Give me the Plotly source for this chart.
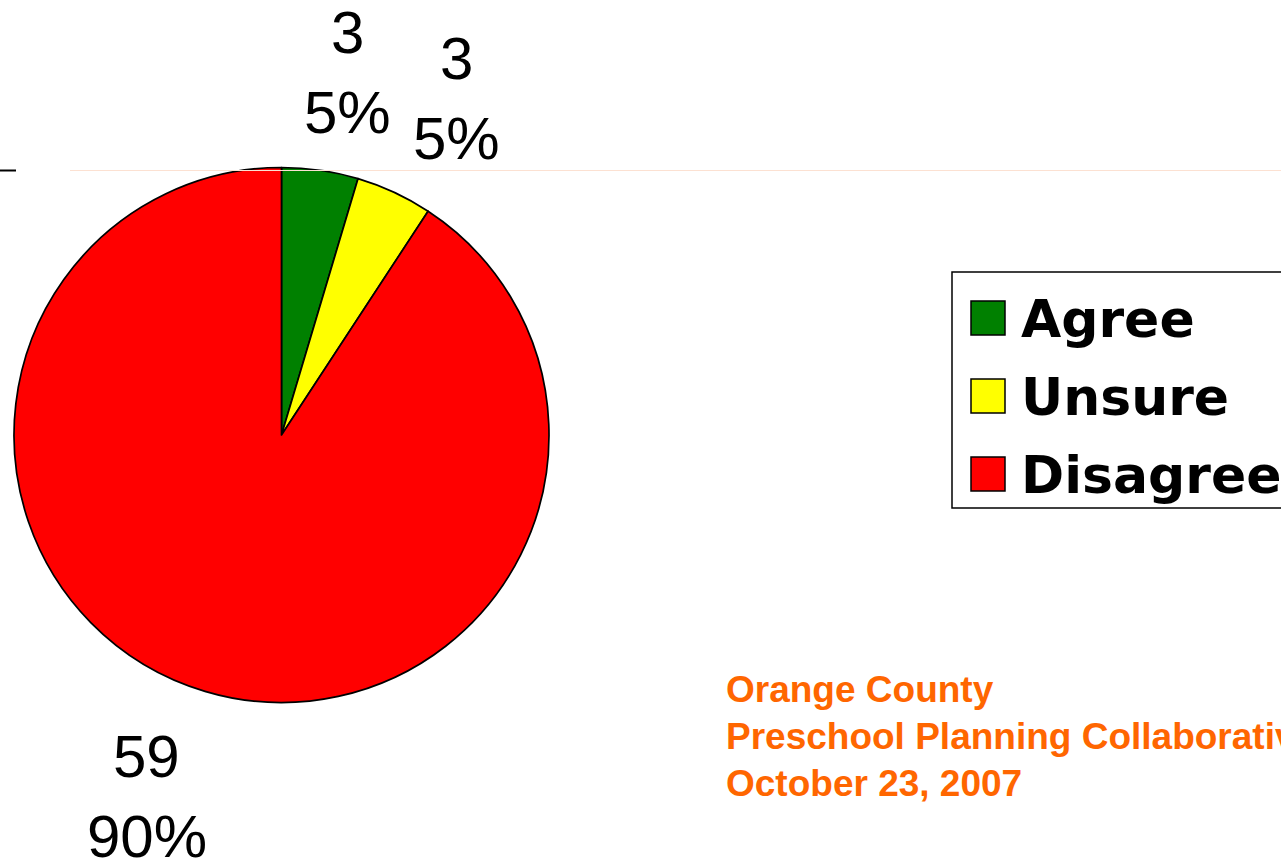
import math
import plotly.graph_objects as go

categories = ["Agree", "Unsure", "Disagree"]
counts = [3, 3, 59]
percent_labels = ["5%", "5%", "90%"]
colors = ["#008000", "#FFFF00", "#FF0000"]
footer_lines = ["Orange County", "Preschool Planning Collaborative", "October 23, 2007"]

W, H = 1281, 861


def px(x):
    return x / W


def py(y):
    return 1 - y / H


cx, cy, R = 281.5, 435.0, 267.5

fig = go.Figure(
    go.Pie(
        labels=categories,
        values=counts,
        sort=False,
        direction="clockwise",
        rotation=0,
        marker=dict(colors=colors, line=dict(color="black", width=1.7)),
        textinfo="none",
        hoverinfo="label+value+percent",
        domain=dict(x=[px(cx - R), px(cx + R)], y=[py(cy + R), py(cy - R)]),
        showlegend=False,
    )
)

annotations = []
shapes = []

# data labels (value + percent) placed outside each slice (layout: radius / angle nudge per label)
FS = 60
label_font = dict(family="Liberation Sans", size=FS, color="black")
LINE = 80                      # distance between the two label lines
label_r = [368, 379, 386]      # distance of label centre from pie centre (px)
label_nudge = [2.0, 2.5, 3.8]  # angular nudge (deg)
total = sum(counts)
cum = 0
for c, p, lr, nd in zip(counts, percent_labels, label_r, label_nudge):
    mid = (cum + c / 2) / total * 360 + nd
    cum += c
    a = math.radians(mid)
    lx = cx + lr * math.sin(a)
    ly = cy - lr * math.cos(a)
    annotations.append(dict(x=px(lx), y=py(ly - LINE / 2), xref="paper", yref="paper", text=str(c),
                            showarrow=False, xanchor="center", yanchor="middle", font=label_font))
    annotations.append(dict(x=px(lx), y=py(ly + LINE / 2), xref="paper", yref="paper", text=p,
                            showarrow=False, xanchor="center", yanchor="middle", font=label_font))

# manual legend
shapes.append(dict(type="rect", xref="paper", yref="paper", x0=px(952), x1=px(1300), y0=py(508), y1=py(272),
                   line=dict(color="black", width=1.5), fillcolor="rgba(0,0,0,0)"))
leg_font = dict(family="DejaVu Sans", size=52, color="black")
for i, (cat, col) in enumerate(zip(categories, colors)):
    yc = 318 + 78 * i
    shapes.append(dict(type="rect", xref="paper", yref="paper", x0=px(971), x1=px(1005), y0=py(yc + 17), y1=py(yc - 17),
                       line=dict(color="black", width=1.5), fillcolor=col))
    annotations.append(dict(x=px(1019), y=py(yc + 1), xref="paper", yref="paper", text="<b>" + cat + "</b>",
                            showarrow=False, xanchor="left", yanchor="middle", font=leg_font))

# top thin line and small dash
shapes.append(dict(type="line", xref="paper", yref="paper", x0=px(70), x1=px(1290), y0=py(170.5), y1=py(170.5),
                   line=dict(color="#FCE1D2", width=1.2)))
shapes.append(dict(type="line", xref="paper", yref="paper", x0=px(0), x1=px(16), y0=py(170.5), y1=py(170.5),
                   line=dict(color="black", width=2)))

# footer text
foot_font = dict(family="Liberation Sans", size=37, color="#FF6600")
for i, t in enumerate(footer_lines):
    annotations.append(dict(x=px(724), y=py(689.7 + 47 * i), xref="paper", yref="paper", text="<b>" + t + "</b>",
                            showarrow=False, xanchor="left", yanchor="middle", font=foot_font))

fig.update_layout(
    width=W,
    height=H,
    margin=dict(l=0, r=0, t=0, b=0),
    paper_bgcolor="white",
    plot_bgcolor="white",
    showlegend=False,
    annotations=annotations,
    shapes=shapes,
)

fig.write_html("out.html", config={"displayModeBar": False},
               post_script="document.body.style.margin='0';document.body.style.overflow='hidden';")
